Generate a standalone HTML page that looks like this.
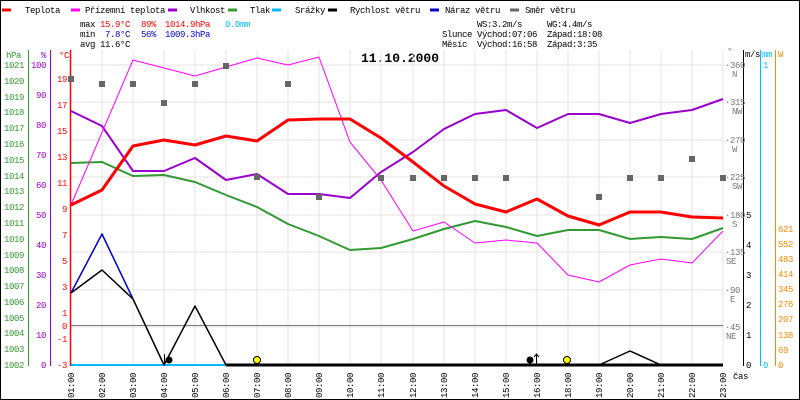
<!DOCTYPE html>
<html><head><meta charset="utf-8"><style>
body{margin:0;background:#fff}
svg{display:block}
text{font-family:"Liberation Mono","DejaVu Sans Mono",monospace;font-size:9px;letter-spacing:-0.4px}
</style></head><body>
<svg width="800" height="400" viewBox="0 0 800 400" xmlns="http://www.w3.org/2000/svg">
<rect x="0.5" y="0.5" width="799" height="399" fill="#fff" stroke="#000"/>
<!-- legend -->
<g stroke-width="3">
<line x1="2" y1="10" x2="11" y2="10" stroke="#f00"/>
<line x1="71" y1="10" x2="80" y2="10" stroke="#f0f"/>
<line x1="168" y1="10" x2="177" y2="10" stroke="#90c"/>
<line x1="228" y1="10" x2="237" y2="10" stroke="#393"/>
<line x1="272" y1="10" x2="281" y2="10" stroke="#0bf"/>
<line x1="328" y1="10" x2="337" y2="10" stroke="#000"/>
<line x1="430" y1="10" x2="439" y2="10" stroke="#00c"/>
<line x1="510" y1="10" x2="519" y2="10" stroke="#666"/>
</g>
<g fill="#000">
<text x="25" y="13">Teplota</text>
<text x="85" y="13">Přízemní teplota</text>
<text x="190" y="13">Vlhkost</text>
<text x="250" y="13">Tlak</text>
<text x="295" y="13">Srážky</text>
<text x="350" y="13">Rychlost větru</text>
<text x="445" y="13">Náraz větru</text>
<text x="525" y="13">Směr větru</text>
<text x="80" y="27">max</text><text x="100" y="27" fill="#f00">15.9°C</text><text x="141" y="27" fill="#f00">89%</text><text x="165" y="27" fill="#f00">1014.9hPa</text><text x="225" y="27" fill="#0bf">0.0mm</text>
<text x="80" y="37">min</text><text x="105" y="37" fill="#00c">7.8°C</text><text x="141" y="37" fill="#00c">56%</text><text x="165" y="37" fill="#00c">1009.3hPa</text>
<text x="80" y="47">avg</text><text x="100" y="47">11.6°C</text>
<text x="477" y="27">WS:3.2m/s</text><text x="547" y="27">WG:4.4m/s</text>
<text x="442" y="37">Slunce</text><text x="477" y="37">Východ:07:06</text><text x="547" y="37">Západ:18:08</text>
<text x="442" y="47">Měsíc</text><text x="477" y="47">Východ:16:58</text><text x="547" y="47">Západ:3:35</text>
</g>
<text x="400" y="62" text-anchor="middle" style="font-size:13px;font-weight:bold;letter-spacing:0">11.10.2000</text>
<!-- grid -->
<g stroke="#e6e2e2" stroke-width="1">
<line x1="71" y1="65" x2="723" y2="65"/><line x1="71" y1="102" x2="723" y2="102"/><line x1="71" y1="140" x2="723" y2="140"/><line x1="71" y1="177" x2="723" y2="177"/><line x1="71" y1="215" x2="723" y2="215"/><line x1="71" y1="252" x2="723" y2="252"/><line x1="71" y1="290" x2="723" y2="290"/><line x1="71" y1="327" x2="723" y2="327"/>
<line x1="102" y1="50" x2="102" y2="365"/><line x1="133" y1="50" x2="133" y2="365"/><line x1="164" y1="50" x2="164" y2="365"/><line x1="195" y1="50" x2="195" y2="365"/><line x1="226" y1="50" x2="226" y2="365"/><line x1="257" y1="50" x2="257" y2="365"/><line x1="288" y1="50" x2="288" y2="365"/><line x1="319" y1="50" x2="319" y2="365"/><line x1="350" y1="50" x2="350" y2="365"/><line x1="381" y1="50" x2="381" y2="365"/><line x1="413" y1="50" x2="413" y2="365"/><line x1="444" y1="50" x2="444" y2="365"/><line x1="475" y1="50" x2="475" y2="365"/><line x1="506" y1="50" x2="506" y2="365"/><line x1="537" y1="50" x2="537" y2="365"/><line x1="568" y1="50" x2="568" y2="365"/><line x1="599" y1="50" x2="599" y2="365"/><line x1="630" y1="50" x2="630" y2="365"/><line x1="661" y1="50" x2="661" y2="365"/><line x1="692" y1="50" x2="692" y2="365"/><line x1="723" y1="50" x2="723" y2="365"/>
</g>
<line x1="71" y1="325.5" x2="723" y2="325.5" stroke="#777" stroke-width="1"/>
<!-- left axes -->
<line x1="28.5" y1="50" x2="28.5" y2="366" stroke="#393"/>
<line x1="50.5" y1="50" x2="50.5" y2="366" stroke="#90c"/>
<line x1="70.5" y1="50" x2="70.5" y2="366" stroke="#f00" stroke-width="1.5"/>
<g fill="#393" text-anchor="end">
<text x="6" y="58" text-anchor="start">hPa</text>
<text x="24" y="68">1021</text><text x="24" y="84">1020</text><text x="24" y="100">1019</text><text x="24" y="115">1018</text><text x="24" y="131">1017</text><text x="24" y="147">1016</text><text x="24" y="163">1015</text><text x="24" y="179">1014</text><text x="24" y="194">1013</text><text x="24" y="210">1012</text><text x="24" y="226">1011</text><text x="24" y="242">1010</text><text x="24" y="258">1009</text><text x="24" y="273">1008</text><text x="24" y="289">1007</text><text x="24" y="305">1006</text><text x="24" y="321">1005</text><text x="24" y="336">1004</text><text x="24" y="352">1003</text><text x="24" y="368">1002</text>
</g>
<g fill="#90c" text-anchor="end">
<text x="46" y="58">%</text>
<text x="46" y="68">100</text><text x="46" y="98">90</text><text x="46" y="128">80</text><text x="46" y="158">70</text><text x="46" y="188">60</text><text x="46" y="218">50</text><text x="46" y="248">40</text><text x="46" y="278">30</text><text x="46" y="308">20</text><text x="46" y="338">10</text><text x="46" y="368">0</text>
</g>
<g fill="#f00" text-anchor="end">
<text x="69" y="58">°C</text>
<text x="67" y="82">19</text><text x="67" y="108">17</text><text x="67" y="134">15</text><text x="67" y="160">13</text><text x="67" y="186">11</text><text x="67" y="212">9</text><text x="67" y="238">7</text><text x="67" y="264">5</text><text x="67" y="290">3</text><text x="67" y="316">1</text><text x="67" y="329">0</text><text x="67" y="342">-1</text><text x="67" y="368">-3</text>
</g>
<!-- right axes -->
<line x1="743.5" y1="50" x2="743.5" y2="366" stroke="#000"/>
<line x1="760.5" y1="50" x2="760.5" y2="366" stroke="#0bf"/>
<line x1="775.5" y1="50" x2="775.5" y2="366" stroke="#f80"/>
<g fill="#777">
<text x="727" y="54">°</text>
<text x="725" y="68">·360</text><text x="732" y="77">N</text>
<text x="725" y="105">·315</text><text x="732" y="114">NW</text>
<text x="725" y="143">·270</text><text x="732" y="152">W</text>
<text x="725" y="180">·225</text><text x="732" y="189">SW</text>
<text x="725" y="218">·180</text><text x="732" y="227">S</text>
<text x="725" y="255">·135</text><text x="726" y="264">SE</text>
<text x="725" y="293">·90</text><text x="730" y="302">E</text>
<text x="725" y="330">·45</text><text x="726" y="339">NE</text>
</g>
<g fill="#000">
<text x="745" y="57">m/s</text>
<text x="746" y="218">5</text><text x="746" y="248">4</text><text x="746" y="278">3</text><text x="746" y="308">2</text><text x="746" y="338">1</text><text x="746" y="368">0</text>
<text x="733" y="379">čas</text>
</g>
<g fill="#0bf"><text x="762" y="57">mm</text><text x="763" y="68">1</text><text x="763" y="368">0</text></g>
<g fill="#f80">
<text x="778" y="57">W</text>
<text x="778" y="232">621</text><text x="778" y="247">552</text><text x="778" y="262">483</text><text x="778" y="277">414</text><text x="778" y="292">345</text><text x="778" y="307">276</text><text x="778" y="322">207</text><text x="778" y="338">138</text><text x="778" y="353">69</text><text x="778" y="368">0</text>
</g>
<!-- series -->
<g fill="none" stroke-linejoin="round">
<line x1="71" y1="365" x2="723" y2="365" stroke="#0bf" stroke-width="2"/>
<polyline stroke="#393" stroke-width="2" points="71,163 102,162 133,176 164,175 195,182 226,195 257,207 288,224 319,236 350,250 381,248 413,239 444,229 475,221 506,227 537,236 568,230 599,230 630,239 661,237 692,239 723,228"/>
<polyline stroke="#90c" stroke-width="2" points="71,111 102,126 133,171 164,171 195,158 226,180 257,174 288,194 319,194 350,198 381,172 413,152 444,129 475,114 506,110 537,128 568,114 599,114 630,123 661,114 692,110 723,99"/>
<polyline stroke="#f0f" stroke-width="1" points="71,205 133,60 164,68 195,76 226,67 257,58 288,65 319,57 350,142 381,180 413,231 444,222 475,243 506,240 537,243 568,275 599,282 630,265 661,259 692,263 723,231"/>
<polyline stroke="#f00" stroke-width="3" points="71,205 102,190 133,146 164,140 195,145 226,136 257,141 288,120 319,119 350,119 381,138 413,162 444,186 475,204 506,212 537,199 568,216 599,225 630,212 661,212 692,217 723,218"/>
<polyline stroke="#00c" stroke-width="1.5" points="71,293 102,234 133,299"/>
<polyline stroke="#000" stroke-width="1.5" points="71,293 102,270 133,299 164,365 195,306 226,365 599,365 630,351 661,365"/>
<line x1="226" y1="365" x2="723" y2="365" stroke="#000" stroke-width="3"/>
</g>
<g fill="#666">
<rect x="68" y="76" width="6" height="6"/><rect x="99" y="81" width="6" height="6"/><rect x="130" y="81" width="6" height="6"/><rect x="161" y="100" width="6" height="6"/><rect x="192" y="81" width="6" height="6"/><rect x="223" y="63" width="6" height="6"/><rect x="254" y="174" width="6" height="6"/><rect x="285" y="81" width="6" height="6"/><rect x="316" y="194" width="6" height="6"/><rect x="378" y="175" width="6" height="6"/><rect x="410" y="175" width="6" height="6"/><rect x="441" y="175" width="6" height="6"/><rect x="472" y="175" width="6" height="6"/><rect x="503" y="175" width="6" height="6"/><rect x="596" y="194" width="6" height="6"/><rect x="627" y="175" width="6" height="6"/><rect x="658" y="175" width="6" height="6"/><rect x="689" y="156" width="6" height="6"/><rect x="720" y="175" width="6" height="6"/>
</g>
<!-- icons -->
<circle cx="169" cy="360" r="3.5" fill="#000"/><line x1="164.5" y1="354" x2="164.5" y2="365" stroke="#000"/>
<circle cx="530" cy="360" r="3.5" fill="#000"/><line x1="536.5" y1="355" x2="536.5" y2="365" stroke="#000"/><path d="M534 357 L536.5 354 L539 357" fill="none" stroke="#000"/>
<circle cx="257" cy="360" r="3.5" fill="#ff0" stroke="#000"/>
<circle cx="567" cy="360" r="3.5" fill="#ff0" stroke="#000"/>
<!-- time labels -->
<g fill="#000">
<text transform="translate(74,398) rotate(-90)">01:00</text><text transform="translate(105,398) rotate(-90)">02:00</text><text transform="translate(136,398) rotate(-90)">03:00</text><text transform="translate(167,398) rotate(-90)">04:00</text><text transform="translate(198,398) rotate(-90)">05:00</text><text transform="translate(229,398) rotate(-90)">06:00</text><text transform="translate(260,398) rotate(-90)">07:00</text><text transform="translate(291,398) rotate(-90)">08:00</text><text transform="translate(322,398) rotate(-90)">09:00</text><text transform="translate(353,398) rotate(-90)">10:00</text><text transform="translate(384,398) rotate(-90)">11:00</text><text transform="translate(416,398) rotate(-90)">12:00</text><text transform="translate(447,398) rotate(-90)">13:00</text><text transform="translate(478,398) rotate(-90)">14:00</text><text transform="translate(509,398) rotate(-90)">15:00</text><text transform="translate(540,398) rotate(-90)">16:00</text><text transform="translate(571,398) rotate(-90)">18:00</text><text transform="translate(602,398) rotate(-90)">19:00</text><text transform="translate(633,398) rotate(-90)">20:00</text><text transform="translate(664,398) rotate(-90)">21:00</text><text transform="translate(695,398) rotate(-90)">22:00</text><text transform="translate(726,398) rotate(-90)">23:00</text>
</g>
</svg>
</body></html>
